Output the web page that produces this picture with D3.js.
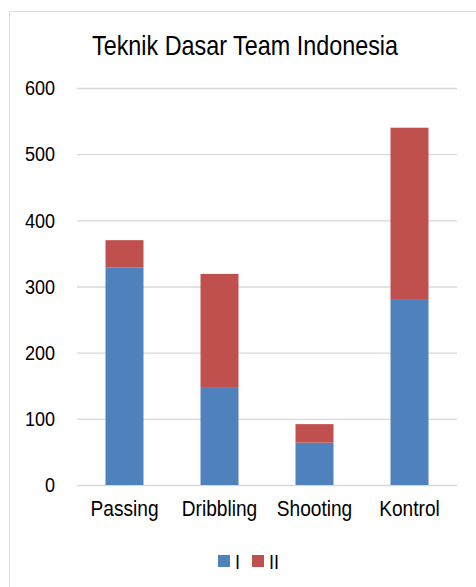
<!DOCTYPE html>
<html><head><meta charset="utf-8">
<script src="https://cdn.jsdelivr.net/npm/d3@7"></script>
<style>body{margin:0;background:#fff;} svg{display:block;font-family:"Liberation Sans",Arial,sans-serif;}</style>
</head><body>
<svg id="c" width="476" height="587"></svg>
<script>
const categories = ["Passing","Dribbling","Shooting","Kontrol"];
const seriesNames = ["I","II"];
const seriesI = [329,148,64,281];
const seriesII = [41,171,28,259];
const yTicks = [0,100,200,300,400,500,600];
const colors = ["#4f81bd","#c0504d"];
const FONT = "Liberation Sans, Arial, sans-serif";

const svg = d3.select("#c");
svg.append("rect").attr("x",9.5).attr("y",11.5).attr("width",476).attr("height",590)
  .attr("fill","#fff").attr("stroke","#d9d9d9");

const x = d3.scaleBand().domain(categories).range([77,457]).paddingInner(0.6).paddingOuter(0.3);
const y = d3.scaleLinear().domain([0,600]).range([485,88]);

// title (condensed)
const tsx = 0.82;
svg.append("g").attr("transform",`translate(245,55) scale(${tsx},1)`)
  .append("text").attr("text-anchor","middle")
  .attr("font-size",28.5).attr("fill","#000").text("Teknik Dasar Team Indonesia");

const gy = svg.append("g").attr("transform","translate(77,0)")
  .call(d3.axisLeft(y).tickValues(yTicks).tickSize(-380).tickPadding(22));
gy.select(".domain").remove();
gy.selectAll(".tick line").attr("stroke","#d9d9d9").attr("stroke-width",1.3);
const ysx = 0.86;
gy.selectAll(".tick text").attr("font-size",21).attr("fill","#000").attr("font-family",FONT)
  .attr("x",-22/ysx).attr("transform",`scale(${ysx},1)`);

const data = categories.map((c,i)=>({cat:c,I:seriesI[i],II:seriesII[i]}));
const stacked = d3.stack().keys(seriesNames)(data);
svg.append("g").selectAll("g").data(stacked).join("g").attr("fill",(d,i)=>colors[i])
  .selectAll("rect").data(d=>d).join("rect")
  .attr("x",d=>x(d.data.cat)).attr("width",x.bandwidth())
  .attr("y",d=>y(d[1])).attr("height",d=>y(d[0])-y(d[1]));

const gx = svg.append("g").attr("transform","translate(0,485)")
  .call(d3.axisBottom(x).tickSize(0).tickPadding(15));
gx.select(".domain").remove();
gx.selectAll(".tick text").attr("font-size",22.5).attr("fill","#000").attr("font-family",FONT)
  .attr("transform","scale(0.85,1)");

const leg = svg.append("g");
const lx = [218,252];
seriesNames.forEach((s,i)=>{
  leg.append("rect").attr("x",lx[i]).attr("y",555).attr("width",12).attr("height",12).attr("fill",colors[i]);
  leg.append("g").attr("transform",`translate(${lx[i]+17},569) scale(0.86,1)`)
    .append("text").attr("font-size",21).attr("fill","#000").text(s);
});
</script>
</body></html>
